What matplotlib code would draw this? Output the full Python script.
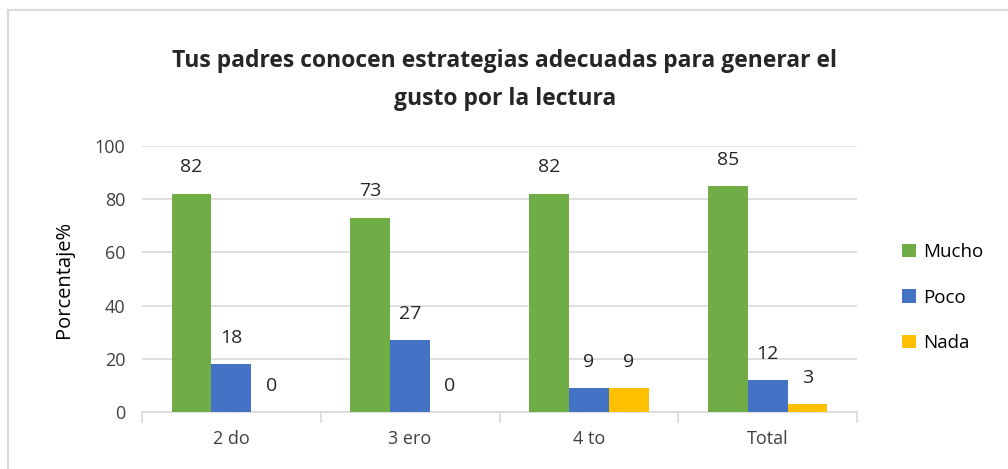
import numpy as np
import matplotlib.pyplot as plt
from matplotlib.patches import Rectangle

grados = ["2 do", "3 ero", "4 to", "Total"]
mucho = [82, 73, 82, 85]
poco = [18, 27, 9, 12]
nada = [0, 0, 9, 3]
series = ["Mucho", "Poco", "Nada"]
colores = ["#70AD47", "#4472C4", "#FFC000"]

plt.rcParams['font.family'] = ['Open Sans', 'DejaVu Sans']

fig = plt.figure(figsize=(10.08, 4.69), dpi=100)
ax = fig.add_axes([142/1008, 1 - 412/469, (857-142)/1008, (412-146)/469])

# marco del grafico
fig.patches.append(Rectangle((8/1008, -0.1), 1.2, 1 - 10/469 + 0.1,
                             transform=fig.transFigure, fill=False,
                             edgecolor="#D9D9D9", linewidth=1.5))

x = np.arange(len(grados))
w = 0.223
for i, (vals, nom, col) in enumerate(zip([mucho, poco, nada], series, colores)):
    pos = x + (i - 1) * w
    ax.bar(pos, vals, w, color=col, label=nom, zorder=3)
    for p, v in zip(pos, vals):
        ax.annotate(str(v), (p, v), xytext=(0, 19), textcoords="offset points",
                    ha="center", va="center", fontsize=14, color="#262626")

ax.set_xlim(-0.5, 3.5)
ax.set_ylim(0, 100)
ax.set_yticks(range(0, 101, 20))
ax.yaxis.grid(True, color="#D9D9D9", linewidth=1.2, zorder=0)
ax.set_xticks(x)
ax.set_xticklabels(grados)
ax.set_xticks(np.arange(-0.5, 4.0, 1), minor=True)
ax.tick_params(axis="x", which="major", length=0, pad=13, labelsize=13, labelcolor="#404040")
ax.tick_params(axis="x", which="minor", length=8, color="#D9D9D9", width=1.2)
ax.tick_params(axis="y", length=0, pad=12, labelsize=13, labelcolor="#404040")
for s in ["top", "right", "left"]:
    ax.spines[s].set_visible(False)
ax.spines["bottom"].set_color("#D9D9D9")
ax.spines["bottom"].set_linewidth(1.2)

ax.set_ylabel("Porcentaje%", fontsize=14.5, color="#000000", labelpad=15)

fig.text(505/1008, 1 - 80/469,
         "Tus padres conocen estrategias adecuadas para generar el\ngusto por la lectura",
         ha="center", va="center", fontsize=16.5, fontweight="bold", color="#262626",
         linespacing=1.75)

ax.legend(loc="center left", bbox_to_anchor=(1.04, 0.43), frameon=False,
          fontsize=13.5, handlelength=0.7, handleheight=0.7, labelspacing=1.45,
          handletextpad=0.4)

fig.savefig("out.png", dpi=100)
